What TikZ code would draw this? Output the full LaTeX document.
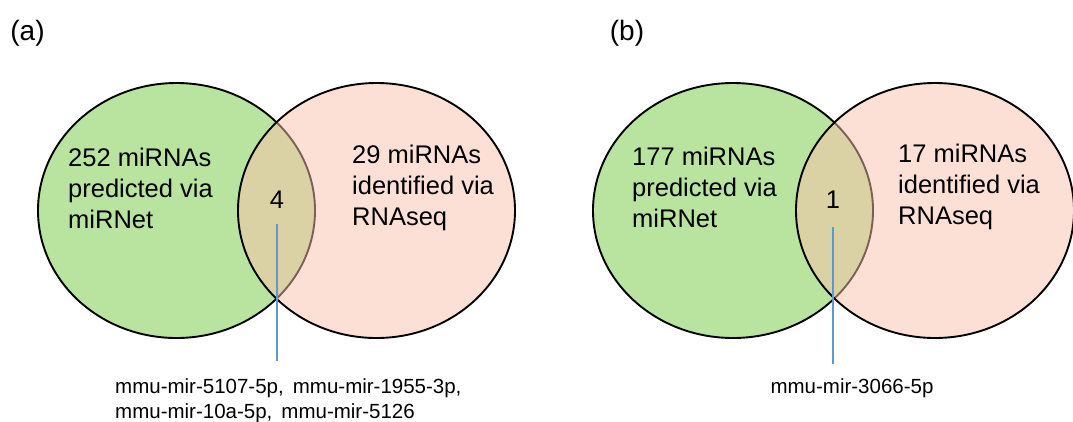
\documentclass[tikz,border=0pt]{standalone}
\usepackage{fontspec}
\setmainfont{Liberation Sans}
\definecolor{setgreen}{HTML}{B9E4A0}
\definecolor{setpink}{HTML}{FBC1AB}
\definecolor{leader}{HTML}{5B9BD5}
\begin{document}
\begin{tikzpicture}[x=1pt,y=-1pt,
  leftset/.style={draw=black,line width=1.9pt,fill=setgreen},
  rightset/.style={draw=black,line width=1.9pt,fill=setpink,fill opacity=0.5},
  maintext/.style={font=\fontsize{25.5}{31}\selectfont,align=left,inner sep=0pt,text=black},
  numtext/.style={font=\fontsize{25.5}{30}\selectfont,inner sep=0pt},
  listtext/.style={font=\fontsize{20.5}{25}\selectfont,align=left,inner sep=0pt},
  paneltag/.style={font=\fontsize{28}{32}\selectfont,inner sep=0pt},
  leaderline/.style={draw=leader,line width=1.3pt}]
\useasboundingbox (0,0) rectangle (1073,421);
% panel (a)
\node[paneltag] (ta) at (27.5,33) {(a)};
\draw[leftset] (176.5,210.5) ellipse [x radius=138.5, y radius=127.5];
\draw[rightset] (376.5,210.5) ellipse [x radius=138.5, y radius=127.5];
\node[maintext,anchor=west] (la) at (68,188) {252 miRNAs\\predicted via\\miRNet};
\node[maintext,anchor=west] (ra) at (352,188) {29 miRNAs\\identified via\\RNAseq};
\node[numtext] (na) at (277,200) {4};
\coordinate (sa) at (277,224);
\coordinate (ea) at (277,361);
\draw[leaderline] (sa) -- (ea);
\node[listtext,anchor=north west] (lista) at (115,378) {mmu-mir-5107-5p,\, mmu-mir-1955-3p,\\mmu-mir-10a-5p,\, mmu-mir-5126};
% panel (b)
\node[paneltag] (tb) at (627,33) {(b)};
\draw[leftset] (733,210.5) ellipse [x radius=140, y radius=127.5];
\draw[rightset] (935,210.5) ellipse [x radius=139, y radius=127.5];
\node[maintext,anchor=west] (lb) at (632,187) {177 miRNAs\\predicted via\\miRNet};
\node[maintext,anchor=west] (rb) at (898,187) {17 miRNAs\\identified via\\RNAseq};
\node[numtext] (nb) at (833,200) {1};
\coordinate (sb) at (833,227);
\coordinate (eb) at (833,364);
\draw[leaderline] (sb) -- (eb);
\node[listtext,anchor=north] (listb) at (852,378) {mmu-mir-3066-5p};
\end{tikzpicture}
\end{document}
